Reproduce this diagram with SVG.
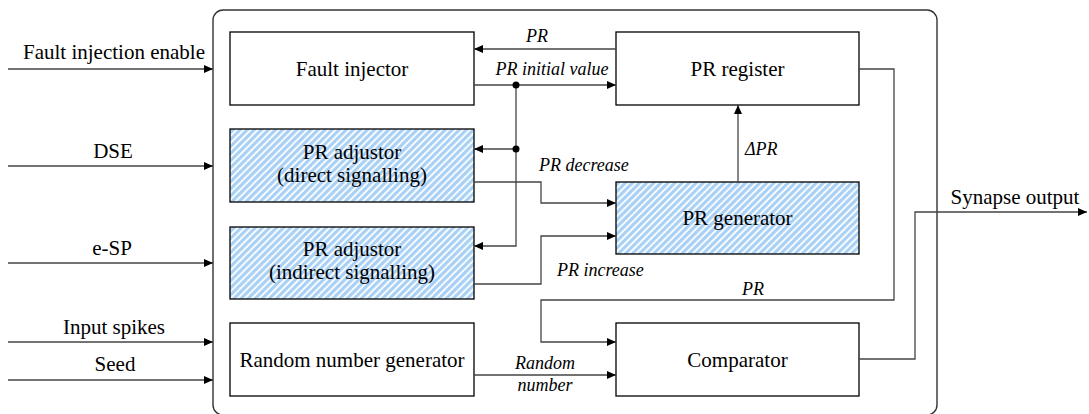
<svg xmlns="http://www.w3.org/2000/svg" width="1089" height="414" viewBox="0 0 1089 414">
  <defs>
    <pattern id="hatch" patternUnits="userSpaceOnUse" width="5" height="5" patternTransform="rotate(45)">
      <rect x="0" y="0" width="5" height="5" fill="#ffffff"/>
      <rect x="0" y="0" width="3.2" height="5" fill="#a9d0f5"/>
    </pattern>
    <marker id="arr" markerUnits="userSpaceOnUse" markerWidth="10" markerHeight="10" viewBox="0 0 10 8" refX="9" refY="4" orient="auto">
      <path d="M0,0 L9,4 L0,8 z" fill="#000"/>
    </marker>
  </defs>
  <style>
    .box { fill: #fff; stroke: #000; stroke-width: 1.3; }
    .hbox { fill: url(#hatch); stroke: #000; stroke-width: 1.3; }
    .outer { fill: none; stroke: #333; stroke-width: 1.4; }
    text { font-family: 'Liberation Serif', Tinos, 'Times New Roman', 'Nimbus Roman', 'DejaVu Serif', serif; fill: #000; }
    .t { font-size: 21px; text-anchor: middle; }
    .it { font-size: 18px; font-style: italic; }
    .c { fill: none; stroke: #444; stroke-width: 1.3; }
    .a { marker-end: url(#arr); }
  </style>

  <rect id="container" class="outer" x="213" y="10" width="724" height="405" rx="10" ry="10"/>

  <g id="fault-injector">
    <rect class="box" x="230" y="32" width="244" height="73"/>
    <text class="t" x="352" y="75.5">Fault injector</text>
  </g>
  <g id="pr-register">
    <rect class="box" x="616" y="32" width="243" height="73"/>
    <text class="t" x="737.5" y="75.5">PR register</text>
  </g>
  <g id="pr-adjustor-direct">
    <rect class="hbox" x="230" y="129" width="244" height="73"/>
    <text class="t" x="352" y="159">PR adjustor</text>
    <text class="t" x="352" y="182">(direct signalling)</text>
  </g>
  <g id="pr-adjustor-indirect">
    <rect class="hbox" x="230" y="227" width="244" height="72"/>
    <text class="t" x="352" y="256">PR adjustor</text>
    <text class="t" x="352" y="279">(indirect signalling)</text>
  </g>
  <g id="pr-generator">
    <rect class="hbox" x="616" y="182" width="243" height="72"/>
    <text class="t" x="737.5" y="225">PR generator</text>
  </g>
  <g id="rng">
    <rect class="box" x="230" y="323" width="244" height="73"/>
    <text class="t" x="352" y="366.5">Random number generator</text>
  </g>
  <g id="comparator">
    <rect class="box" x="616" y="323" width="243" height="73"/>
    <text class="t" x="737.5" y="366.5">Comparator</text>
  </g>

  <g id="connectors">
    <line class="c a" x1="8" y1="69" x2="213" y2="69"/>
    <line class="c a" x1="8" y1="166" x2="213" y2="166"/>
    <line class="c a" x1="8" y1="263" x2="213" y2="263"/>
    <line class="c a" x1="8" y1="342" x2="213" y2="342"/>
    <line class="c a" x1="8" y1="380" x2="213" y2="380"/>

    <path class="c a" d="M616,49 L474,49"/>
    <path class="c a" d="M474,85 L616,85"/>
    <path class="c a" d="M516,85 L516,246 L474,246"/>
    <path class="c a" d="M516,149 L474,149"/>
    <circle cx="516" cy="85" r="3.5" fill="#000"/>
    <circle cx="516" cy="149" r="3.5" fill="#000"/>

    <path class="c a" d="M474,182 L541,182 L541,203 L616,203"/>
    <path class="c a" d="M474,284 L541,284 L541,236 L616,236"/>
    <path class="c a" d="M738,182 L738,105"/>
    <path class="c a" d="M859,69 L894,69 L894,300 L541,300 L541,342 L616,342"/>
    <path class="c a" d="M474,375 L616,375"/>
    <path class="c a" d="M859,359 L915,359 L915,212 L1087,212"/>
  </g>

  <g id="labels">
    <text class="t" x="114" y="59">Fault injection enable</text>
    <text class="t" x="113" y="158">DSE</text>
    <text class="t" x="112" y="255">e-SP</text>
    <text class="t" x="114" y="334">Input spikes</text>
    <text class="t" x="115" y="371">Seed</text>
    <text class="t" x="1015" y="204">Synapse output</text>

    <text class="it" x="537" y="42" text-anchor="middle">PR</text>
    <text class="it" x="552" y="75" text-anchor="middle">PR initial value</text>
    <text class="it" x="539" y="171">PR decrease</text>
    <text class="it" x="745" y="155">ΔPR</text>
    <text class="it" x="557" y="276">PR increase</text>
    <text class="it" x="753" y="295" text-anchor="middle">PR</text>
    <text class="it" x="545" y="369" text-anchor="middle">Random</text>
    <text class="it" x="545" y="391" text-anchor="middle">number</text>
  </g>
</svg>
